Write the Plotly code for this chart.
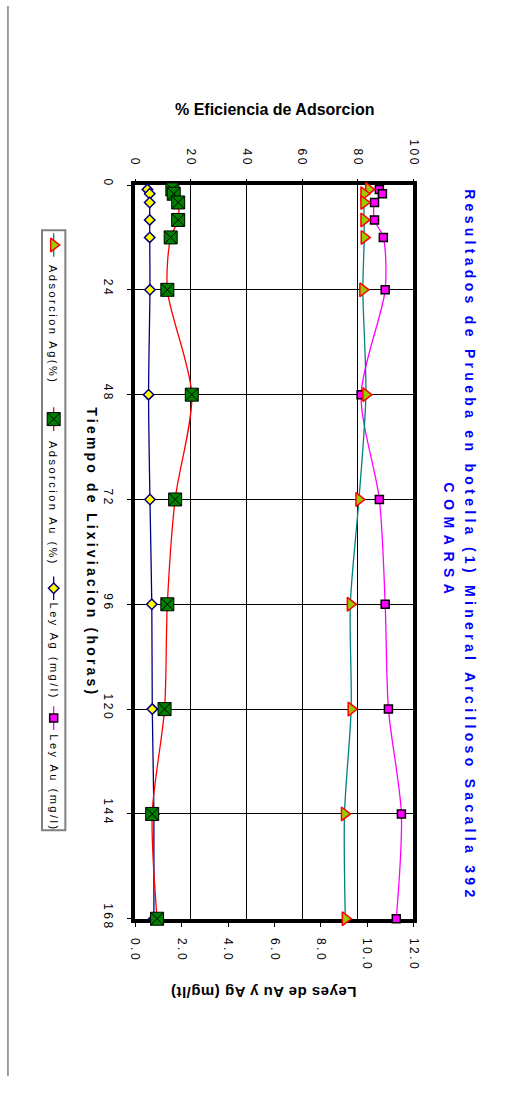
import plotly.graph_objects as go

# ---- data -------------------------------------------------------------
horas = [1, 2, 4, 8, 12, 24, 48, 72, 96, 120, 144, 168]
adsorcion_ag = [83.9, 82.2, 82.2, 82.2, 82.3, 81.8, 82.9, 80.4, 77.3, 77.6, 75.2, 75.5]
adsorcion_au = [13.3, 13.8, 15.4, 15.4, 12.7, 11.5, 20.3, 14.3, 11.5, 10.5, 6.05, 7.8]
ley_ag = [0.52, 0.62, 0.62, 0.62, 0.62, 0.63, 0.57, 0.63, 0.71, 0.73, 0.80, 0.80]
ley_au = [10.53, 10.66, 10.32, 10.32, 10.70, 10.78, 9.74, 10.53, 10.78, 10.92, 11.48, 11.26]

ticks_horas = [0, 24, 48, 72, 96, 120, 144, 168]
ticks_pct = [0, 20, 40, 60, 80, 100]
ticks_ley = [0, 2, 4, 6, 8, 10, 12]

W, H = 507, 1095
FONT = "Liberation Sans, Arial, sans-serif"


def px(x):
    """pixel column -> paper fraction"""
    return x / W


def py(y):
    """pixel row -> paper fraction"""
    return (H - y) / H


def spaced(text, sp):
    return f'<span style="letter-spacing:{sp}px">{text}</span>'


# plot area in pixels
L, R, T, B = 132, 418, 182, 928

styles = {
    "Adsorcion Ag(%)": dict(line=dict(color="#008080", width=1.3),
                            marker=dict(symbol="triangle-right", size=12, color="#99CC00",
                                        line=dict(color="#FF0000", width=1.5))),
    "Adsorcion Au (%)": dict(line=dict(color="#FF0000", width=1.3),
                             marker=dict(symbol="square-x", size=13, color="#008000",
                                         line=dict(color="#000000", width=1))),
    "Ley Ag (mg/l)": dict(line=dict(color="#000080", width=1.3),
                          marker=dict(symbol="diamond", size=8, color="#FFFF00",
                                      line=dict(color="#000080", width=1.5))),
    "Ley Au (mg/l)": dict(line=dict(color="#FF00FF", width=1.3),
                          marker=dict(symbol="square", size=8, color="#FF00FF",
                                      line=dict(color="#000000", width=1.5))),
}

fig = go.Figure()

series = [
    ("Adsorcion Ag(%)", adsorcion_ag, "x2"),
    ("Adsorcion Au (%)", adsorcion_au, "x2"),
    ("Ley Ag (mg/l)", ley_ag, "x"),
    ("Ley Au (mg/l)", ley_au, "x"),
]
for name, vals, xa in series:
    st = styles[name]
    fig.add_trace(go.Scatter(
        x=vals, y=horas, xaxis=xa, yaxis="y", name=name,
        mode="lines+markers", line=dict(shape="spline", smoothing=0.8, **st["line"]),
        marker=st["marker"], showlegend=False, cliponaxis=False))

# ---- hand-drawn legend (rotated) ---------------------------------------
leg_x = 48
leg_items = [("Adsorcion Ag(%)", 243, 324), ("Adsorcion Au (%)", 420, 506),
             ("Ley Ag (mg/l)", 592, 656), ("Ley Au (mg/l)", 724, 790)]
for name, ys, yt in leg_items:
    st = styles[name]
    fig.add_trace(go.Scatter(x=[0.5, 0.5], y=[ys - 12, ys + 12], xaxis="x3", yaxis="y3",
                             mode="lines", line=dict(color=st["line"]["color"], width=1.3),
                             showlegend=False, hoverinfo="skip"))
    fig.add_trace(go.Scatter(x=[0.5], y=[ys], xaxis="x3", yaxis="y3",
                             mode="markers", marker=st["marker"],
                             showlegend=False, hoverinfo="skip", cliponaxis=False))

axis_font = dict(family=FONT, size=12, color="#000000")

fig.update_layout(
    width=W, height=H,
    margin=dict(l=0, r=0, t=0, b=0),
    paper_bgcolor="white", plot_bgcolor="white",
    showlegend=False,
    font=dict(family=FONT),
    xaxis=dict(domain=[px(L), px(R)], range=[0, 12], anchor="y", side="bottom",
               tickvals=ticks_ley, ticktext=[spaced(f"{v:.1f}", 2.5) for v in ticks_ley],
               tickangle=90, ticks="outside", ticklen=5, tickcolor="black",
               tickfont=axis_font, showgrid=False, zeroline=False,
               showline=True, mirror=True, linewidth=3.5, linecolor="black",
               layer="below traces", ticklabelstandoff=8),
    xaxis2=dict(overlaying="x", anchor="y", side="top", range=[0, 100],
                tickvals=ticks_pct, ticktext=[spaced(str(v), 2.5) for v in ticks_pct],
                tickangle=90, ticks="outside", ticklen=5, tickcolor="black",
                tickfont=axis_font, showgrid=True, gridcolor="black", gridwidth=1,
                zeroline=False, showline=False, layer="below traces",
                ticklabelstandoff=8),
    yaxis=dict(domain=[py(B), py(T)], range=[168, 0], anchor="x",
               tickvals=ticks_horas, ticktext=[spaced(str(v), 2.5) for v in ticks_horas],
               tickangle=90, ticks="outside", ticklen=5, tickcolor="black",
               tickfont=axis_font, showgrid=True, gridcolor="black", gridwidth=1,
               zeroline=False, showline=True, mirror=True, linewidth=3.5,
               linecolor="black", layer="below traces", ticklabelstandoff=8),
    xaxis3=dict(domain=[px(36), px(60)], range=[0, 1], visible=False, fixedrange=True),
    yaxis3=dict(domain=[0, 1], range=[H, 0], visible=False, fixedrange=True,
                anchor="x3"),
)

# legend frame
fig.add_shape(type="rect", xref="paper", yref="paper",
              x0=px(36), x1=px(60), y0=py(838), y1=py(228),
              line=dict(color="#808080", width=2), fillcolor="rgba(0,0,0,0)")
# page frame edge
fig.add_shape(type="line", xref="paper", yref="paper",
              x0=px(1), x1=px(1), y0=py(1088), y1=1,
              line=dict(color="#404040", width=1))

for name, ys, yt in leg_items:
    fig.add_annotation(x=px(leg_x), y=py(yt), xref="paper", yref="paper",
                       text=spaced(name, 2.5), showarrow=False, textangle=90,
                       xanchor="center", yanchor="middle",
                       font=dict(family=FONT, size=11, color="black"))

# axis titles
fig.add_annotation(x=px(275), y=py(105), xref="paper", yref="paper",
                   text="<b>% Eficiencia de Adsorcion</b>", showarrow=False,
                   xanchor="center", yanchor="middle",
                   font=dict(family=FONT, size=16, color="black"))
fig.add_annotation(x=px(264), y=py(1003), xref="paper", yref="paper",
                   text="<b>" + spaced("Leyes de Au y Ag (mg/lt)", 0.5) + "</b>",
                   showarrow=False, textangle=180,
                   xanchor="center", yanchor="middle",
                   font=dict(family=FONT, size=15, color="black"))
fig.add_annotation(x=px(88), y=py(555), xref="paper", yref="paper",
                   text="<b>" + spaced("Tiempo de Lixiviacion (horas)", 3.2) + "</b>",
                   showarrow=False, textangle=90, xanchor="center", yanchor="middle",
                   font=dict(family=FONT, size=14, color="black"))

# chart title
fig.add_annotation(x=px(476), y=py(548), xref="paper", yref="paper",
                   text="<b>" + spaced("Resultados de Prueba en botella (1) Mineral Arcilloso Sacalla 392", 4.3) + "</b>",
                   showarrow=False, textangle=90, xanchor="center", yanchor="middle",
                   font=dict(family=FONT, size=14, color="#0000FF"))
fig.add_annotation(x=px(455), y=py(545), xref="paper", yref="paper",
                   text="<b>" + spaced("COMARSA", 6.5) + "</b>",
                   showarrow=False, textangle=90, xanchor="center", yanchor="middle",
                   font=dict(family=FONT, size=14, color="#0000FF"))

fig.write_html("out.html")
